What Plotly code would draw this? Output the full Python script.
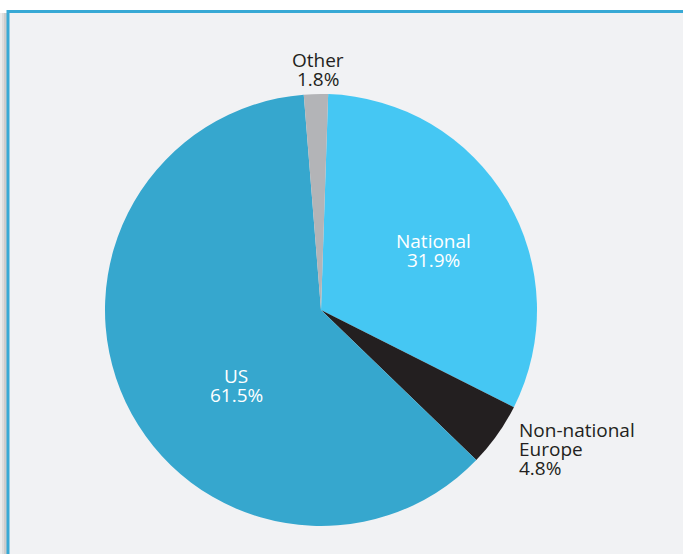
import plotly.graph_objects as go

# data
labels = ["National", "Non-national<br>Europe", "US", "Other"]
shares = [31.9, 4.8, 61.5, 1.8]
colors = ["#45c7f3", "#231f20", "#36a7ce", "#b3b4b7"]

W, H = 683, 554

# label placement (pixels): x, first line y, anchor, text colour
label_pos = {
    "National": (433, 241, "center", "white"),
    "Non-national<br>Europe": (517, 430, "left", "#231f20"),
    "US": (236, 376, "center", "white"),
    "Other": (318, 60, "center", "#231f20"),
}
line_gap = 19


def px(x, y):
    return x / W, 1 - y / H


fig = go.Figure()

# pie centred at (321, 310), radius 216 px
fig.add_trace(go.Pie(
    labels=labels,
    values=shares,
    sort=False,
    direction="clockwise",
    rotation=1.9,
    marker=dict(colors=colors, line=dict(width=0)),
    textinfo="none",
    hoverinfo="label+percent",
    showlegend=False,
    domain=dict(x=[105 / W, 537 / W], y=[1 - 526 / H, 1 - 94 / H]),
))

annotations = []
for lab, val in zip(labels, shares):
    x, y, anchor, col = label_pos[lab]
    lines = lab.split("<br>") + [f"{val}%"]
    for i, line in enumerate(lines):
        ax, ay = px(x, y + i * line_gap)
        annotations.append(dict(
            x=ax, y=ay, xref="paper", yref="paper",
            text=line, showarrow=False,
            xanchor=anchor, yanchor="middle",
            font=dict(family="Open Sans", size=19, color=col),
        ))

# panel frame: soft left shadow, fill, blue border
shapes = []
for sx0, sx1, shade in [(0, 2, "#ececec"), (2, 4, "#dedede"), (4, 7, "#cdcdcd")]:
    shapes.append(dict(type="rect", xref="paper", yref="paper",
                       x0=sx0 / W, x1=sx1 / W, y0=-0.05, y1=1 - 13 / H,
                       fillcolor=shade, line=dict(width=0), layer="below"))
x0, y1 = px(8, 11.5)
shapes.append(dict(type="rect", xref="paper", yref="paper",
                   x0=x0, x1=1.05, y0=-0.05, y1=y1,
                   fillcolor="#f1f2f4", line=dict(color="#38a9d5", width=3),
                   layer="below"))

fig.update_layout(
    width=W, height=H,
    margin=dict(l=0, r=0, t=0, b=0),
    paper_bgcolor="white",
    plot_bgcolor="white",
    annotations=annotations,
    shapes=shapes,
)

# drop the page's default body margin so the chart sits at the window origin
fig.write_html("out.html", config={"displayModeBar": False},
               post_script="document.body.style.margin='0';")
